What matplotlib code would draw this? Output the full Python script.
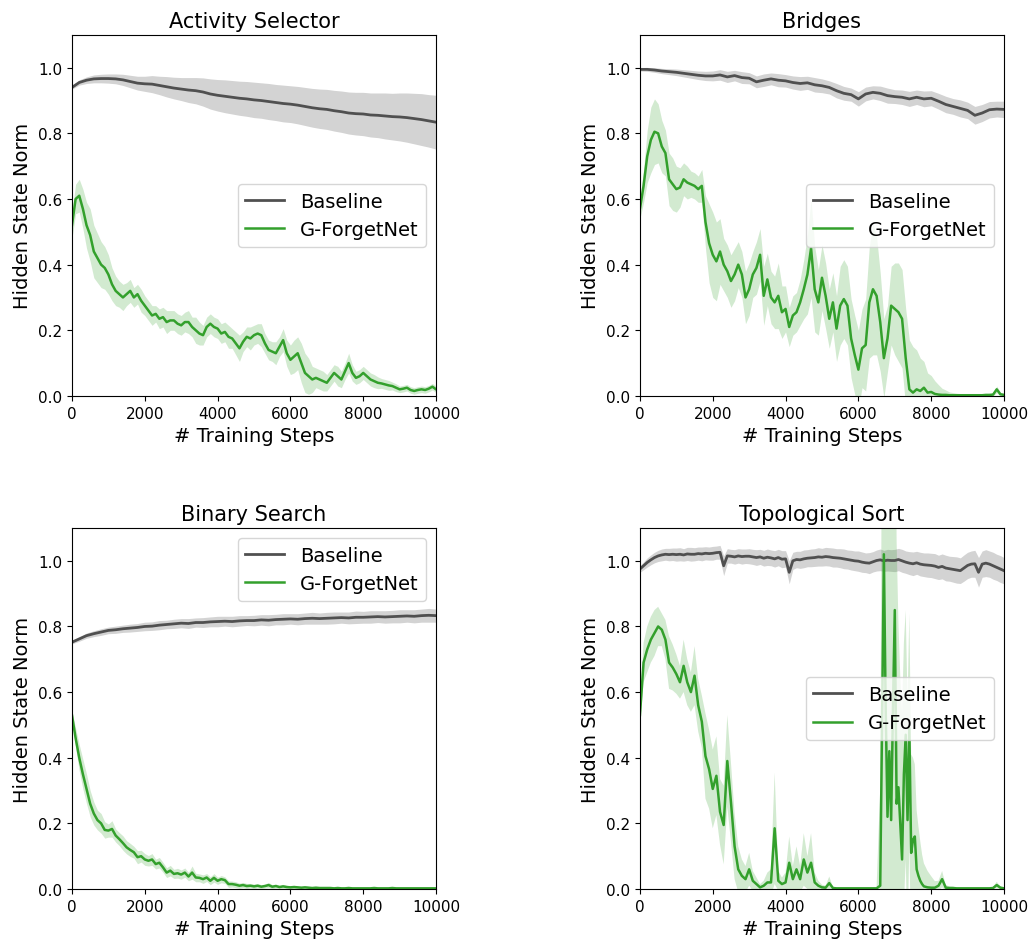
import numpy as np
import matplotlib
matplotlib.use("Agg")
import matplotlib.pyplot as plt

# ---- data ----
titles = ["Activity Selector", "Bridges", "Binary Search", "Topological Sort"]
legend_locs = ["center right", "center right", "upper right", "center right"]

base_steps = np.arange(0, 10001, 200)
green_steps = np.arange(0, 10001, 100)

# Activity Selector
act_base = [0.94, 0.955, 0.962, 0.966, 0.967, 0.967, 0.966, 0.963, 0.958, 0.953, 0.951,
            0.95, 0.946, 0.942, 0.938, 0.935, 0.932, 0.93, 0.926, 0.92, 0.916,
            0.913, 0.91, 0.907, 0.905, 0.902, 0.9, 0.897, 0.894, 0.891, 0.889,
            0.886, 0.882, 0.878, 0.875, 0.873, 0.869, 0.866, 0.862, 0.86, 0.859,
            0.856, 0.855, 0.853, 0.851, 0.85, 0.848, 0.845, 0.842, 0.838, 0.834]
act_base_sd = [0.005, 0.008, 0.01, 0.012, 0.013, 0.014, 0.015, 0.017, 0.019, 0.021, 0.023,
               0.026, 0.028, 0.031, 0.033, 0.035, 0.038, 0.04, 0.043, 0.046, 0.048,
               0.05, 0.051, 0.052, 0.053, 0.054, 0.054, 0.055, 0.055, 0.056, 0.056,
               0.057, 0.058, 0.059, 0.06, 0.061, 0.062, 0.063, 0.064, 0.065, 0.066,
               0.067, 0.068, 0.07, 0.071, 0.073, 0.075, 0.077, 0.079, 0.08, 0.082]
act_green = [0.52, 0.60, 0.61, 0.57, 0.52, 0.49, 0.44, 0.42, 0.40, 0.39, 0.37,
             0.34, 0.32, 0.31, 0.30, 0.31, 0.32, 0.30, 0.31, 0.29, 0.275,
             0.26, 0.245, 0.25, 0.235, 0.24, 0.225, 0.23, 0.23, 0.22, 0.215,
             0.225, 0.225, 0.21, 0.20, 0.19, 0.185, 0.21, 0.22, 0.21, 0.205,
             0.19, 0.195, 0.18, 0.175, 0.16, 0.145, 0.165, 0.18, 0.175, 0.185,
             0.19, 0.185, 0.16, 0.14, 0.135, 0.13, 0.15, 0.17, 0.13, 0.11,
             0.12, 0.13, 0.10, 0.07, 0.06, 0.05, 0.055, 0.05, 0.045, 0.04,
             0.055, 0.07, 0.06, 0.05, 0.075, 0.10, 0.07, 0.055, 0.06, 0.07,
             0.06, 0.05, 0.045, 0.04, 0.038, 0.035, 0.032, 0.03, 0.025, 0.02,
             0.022, 0.025, 0.018, 0.015, 0.018, 0.02, 0.018, 0.022, 0.028, 0.02]
act_green_sd = [0.04, 0.045, 0.05, 0.06, 0.07, 0.08, 0.08, 0.075, 0.07, 0.065, 0.06,
                0.05, 0.045, 0.04, 0.04, 0.035, 0.035, 0.03, 0.03, 0.035, 0.03,
                0.03, 0.03, 0.025, 0.03, 0.03, 0.035, 0.03, 0.03, 0.03, 0.03,
                0.03, 0.035, 0.03, 0.04, 0.035, 0.03, 0.03, 0.03, 0.03, 0.03,
                0.03, 0.03, 0.035, 0.03, 0.035, 0.04, 0.03, 0.03, 0.035, 0.03,
                0.03, 0.035, 0.03, 0.03, 0.03, 0.035, 0.03, 0.035, 0.04, 0.045,
                0.05, 0.05, 0.06, 0.06, 0.055, 0.04, 0.03, 0.03, 0.03, 0.025,
                0.025, 0.025, 0.03, 0.025, 0.025, 0.03, 0.025, 0.02, 0.02, 0.02,
                0.02, 0.02, 0.02, 0.018, 0.015, 0.015, 0.015, 0.012, 0.012, 0.01,
                0.01, 0.01, 0.01, 0.01, 0.01, 0.01, 0.01, 0.01, 0.01, 0.01]

# Bridges
bri_base = [0.995, 0.995, 0.993, 0.99, 0.988, 0.986, 0.983, 0.98, 0.977, 0.975, 0.975,
            0.978, 0.972, 0.976, 0.97, 0.968, 0.957, 0.962, 0.966, 0.962, 0.96,
            0.955, 0.952, 0.954, 0.948, 0.945, 0.94, 0.93, 0.922, 0.918, 0.905,
            0.92, 0.925, 0.922, 0.915, 0.912, 0.91, 0.905, 0.91, 0.905, 0.907,
            0.898, 0.888, 0.882, 0.876, 0.87, 0.855, 0.862, 0.872, 0.874, 0.873]
bri_base_sd = [0.005, 0.006, 0.007, 0.008, 0.009, 0.01, 0.011, 0.012, 0.013, 0.014, 0.015,
               0.016, 0.017, 0.016, 0.018, 0.017, 0.018, 0.019, 0.018, 0.02, 0.019,
               0.02, 0.021, 0.02, 0.022, 0.021, 0.02, 0.022, 0.021, 0.02, 0.022,
               0.021, 0.02, 0.022, 0.023, 0.021, 0.022, 0.023, 0.022, 0.024, 0.023,
               0.024, 0.025, 0.024, 0.026, 0.025, 0.027, 0.026, 0.025, 0.024, 0.025]
bri_green = [0.57, 0.64, 0.73, 0.78, 0.805, 0.80, 0.76, 0.74, 0.66, 0.645, 0.63,
             0.635, 0.66, 0.65, 0.645, 0.64, 0.63, 0.64, 0.53, 0.465, 0.43,
             0.41, 0.44, 0.40, 0.38, 0.35, 0.37, 0.40, 0.37, 0.30, 0.325,
             0.37, 0.39, 0.43, 0.305, 0.355, 0.30, 0.285, 0.305, 0.255, 0.265,
             0.21, 0.245, 0.255, 0.285, 0.325, 0.37, 0.45, 0.325, 0.285, 0.36,
             0.305, 0.235, 0.285, 0.205, 0.275, 0.295, 0.275, 0.175, 0.125, 0.08,
             0.145, 0.155, 0.285, 0.325, 0.305, 0.225, 0.115, 0.175, 0.275, 0.265,
             0.255, 0.235, 0.115, 0.02, 0.01, 0.02, 0.015, 0.025, 0.01, 0.012,
             0.006, 0.004, 0.003, 0.003, 0.002, 0.002, 0.002, 0.002, 0.002, 0.002,
             0.002, 0.002, 0.002, 0.002, 0.003, 0.003, 0.004, 0.02, 0.005, 0.003]
bri_green_sd = [0.03, 0.05, 0.08, 0.1, 0.1, 0.09, 0.08, 0.07, 0.08, 0.08, 0.07,
                0.06, 0.05, 0.05, 0.04, 0.04, 0.04, 0.05, 0.08, 0.12, 0.13,
                0.12, 0.1, 0.08, 0.08, 0.08, 0.08, 0.07, 0.07, 0.08, 0.08,
                0.07, 0.08, 0.08, 0.09, 0.08, 0.08, 0.08, 0.1, 0.08, 0.07,
                0.06, 0.06, 0.06, 0.07, 0.09, 0.12, 0.15, 0.13, 0.1, 0.1,
                0.1, 0.09, 0.09, 0.1, 0.12, 0.12, 0.12, 0.12, 0.12, 0.12,
                0.12, 0.14, 0.17, 0.2, 0.18, 0.15, 0.12, 0.1, 0.12, 0.14,
                0.15, 0.15, 0.15, 0.15, 0.14, 0.12, 0.1, 0.08, 0.06, 0.05,
                0.04, 0.03, 0.02, 0.015, 0.01, 0.008, 0.006, 0.005, 0.004, 0.004,
                0.004, 0.004, 0.004, 0.004, 0.004, 0.004, 0.004, 0.01, 0.006, 0.004]

# Binary Search
bin_base = [0.752, 0.762, 0.772, 0.778, 0.783, 0.788, 0.79, 0.793, 0.795, 0.797, 0.80,
            0.801, 0.804, 0.806, 0.808, 0.81, 0.809, 0.812, 0.812, 0.814, 0.815,
            0.816, 0.815, 0.817, 0.818, 0.818, 0.82, 0.819, 0.821, 0.822, 0.823,
            0.822, 0.824, 0.825, 0.824, 0.825, 0.826, 0.827, 0.826, 0.828, 0.828,
            0.829, 0.83, 0.829, 0.83, 0.831, 0.832, 0.831, 0.833, 0.834, 0.833]
bin_base_sd = [0.005, 0.007, 0.008, 0.009, 0.01, 0.01, 0.011, 0.011, 0.012, 0.012, 0.013,
               0.013, 0.014, 0.013, 0.014, 0.014, 0.015, 0.014, 0.015, 0.015, 0.016,
               0.015, 0.016, 0.016, 0.015, 0.016, 0.016, 0.017, 0.016, 0.017, 0.016,
               0.017, 0.017, 0.018, 0.017, 0.018, 0.018, 0.017, 0.018, 0.019, 0.018,
               0.019, 0.018, 0.019, 0.019, 0.02, 0.019, 0.02, 0.02, 0.021, 0.02]
bin_green = [0.53, 0.46, 0.40, 0.35, 0.305, 0.26, 0.23, 0.21, 0.20, 0.18, 0.178,
             0.183, 0.163, 0.152, 0.14, 0.127, 0.119, 0.112, 0.097, 0.10, 0.09,
             0.086, 0.09, 0.076, 0.08, 0.066, 0.05, 0.056, 0.046, 0.048, 0.044,
             0.05, 0.038, 0.05, 0.035, 0.034, 0.03, 0.035, 0.025, 0.034, 0.025,
             0.03, 0.027, 0.015, 0.015, 0.013, 0.01, 0.012, 0.009, 0.01, 0.008,
             0.01, 0.007, 0.009, 0.012, 0.007, 0.009, 0.006, 0.008, 0.006, 0.005,
             0.006, 0.005, 0.004, 0.005, 0.004, 0.003, 0.004, 0.003, 0.003, 0.003,
             0.003, 0.002, 0.003, 0.002, 0.002, 0.003, 0.002, 0.002, 0.002, 0.002,
             0.002, 0.002, 0.003, 0.002, 0.002, 0.002, 0.002, 0.003, 0.002, 0.002,
             0.002, 0.002, 0.002, 0.002, 0.002, 0.002, 0.002, 0.002, 0.002, 0.002]
bin_green_sd = [0.01, 0.03, 0.04, 0.045, 0.045, 0.04, 0.035, 0.03, 0.03, 0.025, 0.02,
                0.025, 0.02, 0.02, 0.022, 0.02, 0.02, 0.018, 0.02, 0.018, 0.018,
                0.016, 0.018, 0.015, 0.016, 0.015, 0.015, 0.016, 0.014, 0.015, 0.014,
                0.014, 0.013, 0.02, 0.013, 0.012, 0.013, 0.012, 0.012, 0.013, 0.011,
                0.011, 0.01, 0.01, 0.009, 0.009, 0.008, 0.008, 0.008, 0.007, 0.007,
                0.007, 0.006, 0.006, 0.008, 0.006, 0.006, 0.005, 0.006, 0.005, 0.005,
                0.005, 0.004, 0.004, 0.004, 0.004, 0.004, 0.003, 0.003, 0.003, 0.003,
                0.003, 0.003, 0.003, 0.003, 0.003, 0.003, 0.003, 0.003, 0.003, 0.003,
                0.003, 0.003, 0.003, 0.003, 0.003, 0.003, 0.003, 0.003, 0.003, 0.003,
                0.003, 0.003, 0.003, 0.003, 0.003, 0.003, 0.003, 0.003, 0.003, 0.003]

# Topological Sort (baseline every 100 steps, green finer around the spikes)
top_base = [0.975, 0.985, 0.995, 1.003, 1.01, 1.015, 1.018, 1.02, 1.019, 1.02, 1.019,
            1.02, 1.018, 1.021, 1.02, 1.02, 1.022, 1.021, 1.023, 1.022, 1.023,
            1.025, 1.026, 0.985, 1.015, 1.014, 1.012, 1.015, 1.013, 1.014, 1.014,
            1.012, 1.01, 1.012, 1.008, 1.011, 1.009, 1.006, 1.01, 1.005, 1.006,
            0.965, 1.0, 1.004, 1.003, 1.006, 1.008, 1.009, 1.01, 1.012, 1.011,
            1.013, 1.012, 1.01, 1.009, 1.008, 1.006, 1.004, 1.002, 1.0, 0.999,
            0.996, 0.994, 0.993, 0.997, 1.001, 1.003, 1.0, 1.002, 1.001, 1.001,
            1.004, 1.0, 0.996, 0.993, 0.991, 0.994, 0.99, 0.988, 0.987, 0.986,
            0.984, 0.98, 0.983, 0.978, 0.976, 0.974, 0.972, 0.97, 0.978, 0.986,
            0.99, 0.991, 0.965, 0.99, 0.993, 0.99, 0.985, 0.98, 0.975, 0.97]
top_base_sd = [0.01, 0.012, 0.014, 0.015, 0.016, 0.017, 0.018, 0.018, 0.019, 0.019, 0.02,
               0.02, 0.019, 0.02, 0.021, 0.02, 0.02, 0.021, 0.02, 0.02, 0.021,
               0.02, 0.021, 0.03, 0.022, 0.021, 0.022, 0.022, 0.023, 0.022, 0.023,
               0.023, 0.024, 0.023, 0.024, 0.025, 0.024, 0.025, 0.025, 0.026, 0.025,
               0.035, 0.026, 0.025, 0.026, 0.027, 0.026, 0.027, 0.027, 0.028, 0.027,
               0.028, 0.028, 0.029, 0.028, 0.029, 0.03, 0.029, 0.03, 0.03, 0.031,
               0.031, 0.03, 0.032, 0.031, 0.032, 0.033, 0.032, 0.033, 0.033, 0.034,
               0.034, 0.035, 0.034, 0.035, 0.036, 0.035, 0.036, 0.036, 0.037, 0.037,
               0.038, 0.037, 0.038, 0.039, 0.038, 0.039, 0.04, 0.039, 0.04, 0.04,
               0.04, 0.041, 0.045, 0.04, 0.041, 0.04, 0.041, 0.04, 0.041, 0.04]
top_green_steps = np.concatenate([np.arange(0, 6600, 100),
                                  np.arange(6600, 7800, 50),
                                  np.arange(7800, 10001, 100)])
top_green = [0.53, 0.69, 0.73, 0.76, 0.78, 0.80, 0.79, 0.76, 0.69, 0.675,
             0.655, 0.63, 0.68, 0.63, 0.60, 0.65, 0.56, 0.51, 0.405, 0.365,
             0.305, 0.345, 0.235, 0.195, 0.39, 0.265, 0.13, 0.06, 0.04, 0.03,
             0.06, 0.025, 0.015, 0.005, 0.01, 0.02, 0.02, 0.185, 0.025, 0.015,
             0.02, 0.08, 0.03, 0.06, 0.03, 0.09, 0.05, 0.08, 0.02, 0.01,
             0.005, 0.004, 0.018, 0.003, 0.002, 0.002, 0.002, 0.002, 0.002, 0.002,
             0.002, 0.002, 0.002, 0.002, 0.002, 0.002,
             # 6600 .. 7750 every 50
             0.01, 0.5, 1.02, 0.55, 0.22, 0.42, 0.21, 0.55, 0.85, 0.26, 0.31, 0.2,
             0.09, 0.35, 0.47, 0.21, 0.49, 0.11, 0.15, 0.16, 0.06, 0.04, 0.025, 0.015,
             # 7800 .. 10000
             0.008, 0.005, 0.004, 0.004, 0.01, 0.03, 0.004, 0.003, 0.003, 0.002,
             0.002, 0.002, 0.002, 0.002, 0.002, 0.002, 0.002, 0.002, 0.002, 0.003,
             0.012, 0.004, 0.002]
top_green_sd = [0.03, 0.06, 0.07, 0.07, 0.07, 0.06, 0.05, 0.06, 0.08, 0.07,
                0.06, 0.05, 0.08, 0.07, 0.06, 0.09, 0.08, 0.08, 0.13, 0.12,
                0.12, 0.12, 0.1, 0.12, 0.14, 0.12, 0.1, 0.07, 0.05, 0.04,
                0.05, 0.03, 0.02, 0.01, 0.015, 0.03, 0.04, 0.17, 0.03, 0.02,
                0.03, 0.08, 0.04, 0.07, 0.04, 0.08, 0.05, 0.09, 0.03, 0.015,
                0.008, 0.006, 0.02, 0.004, 0.003, 0.003, 0.003, 0.003, 0.003, 0.003,
                0.003, 0.003, 0.003, 0.003, 0.003, 0.003,
                0.3, 1.0, 1.1, 1.1, 1.0, 0.9, 0.9, 1.0, 1.0, 0.8, 0.5, 0.45,
                0.45, 0.4, 0.38, 0.36, 0.35, 0.3, 0.25, 0.22, 0.18, 0.15, 0.12, 0.09,
                0.07, 0.05, 0.035, 0.02, 0.015, 0.025, 0.008, 0.005, 0.004, 0.003,
                0.003, 0.003, 0.003, 0.003, 0.003, 0.003, 0.003, 0.003, 0.003, 0.003,
                0.01, 0.004, 0.003]

panels = [
    (base_steps, act_base, act_base_sd, green_steps, act_green, act_green_sd),
    (base_steps, bri_base, bri_base_sd, green_steps, bri_green, bri_green_sd),
    (base_steps, bin_base, bin_base_sd, green_steps, bin_green, bin_green_sd),
    (green_steps, top_base, top_base_sd, top_green_steps, top_green, top_green_sd),
]

base_color = '#505050'
green_color = '#33a02c'

fig, axes = plt.subplots(2, 2, figsize=(10.34, 9.45), dpi=100)
fig.subplots_adjust(left=0.0696, right=0.971, bottom=0.0582, top=0.962,
                    wspace=0.56, hspace=0.366)

for ax, title, loc, (bx, bm, bs, gx, gm, gs) in zip(axes.flat, titles, legend_locs, panels):
    bm, bs, gm, gs = (np.array(a) for a in (bm, bs, gm, gs))
    ax.fill_between(bx, bm - bs, bm + bs, color='lightgray', lw=0)
    ax.plot(bx, bm, color=base_color, lw=2, label='Baseline')
    ax.fill_between(gx, gm - gs, gm + gs, color=green_color, alpha=0.22, lw=0)
    ax.plot(gx, gm, color=green_color, lw=1.8, label='G-ForgetNet')
    ax.set_xlim(0, 10000)
    ax.set_ylim(0, 1.1)
    ax.set_yticks([0.0, 0.2, 0.4, 0.6, 0.8, 1.0])
    ax.set_xticks([0, 2000, 4000, 6000, 8000, 10000])
    ax.tick_params(labelsize=11)
    ax.set_title(title, fontsize=15)
    ax.set_xlabel('# Training Steps', fontsize=14)
    ax.set_ylabel('Hidden State Norm', fontsize=14)
    ax.legend(loc=loc, fontsize=14)

fig.savefig('out.png', dpi=100)
